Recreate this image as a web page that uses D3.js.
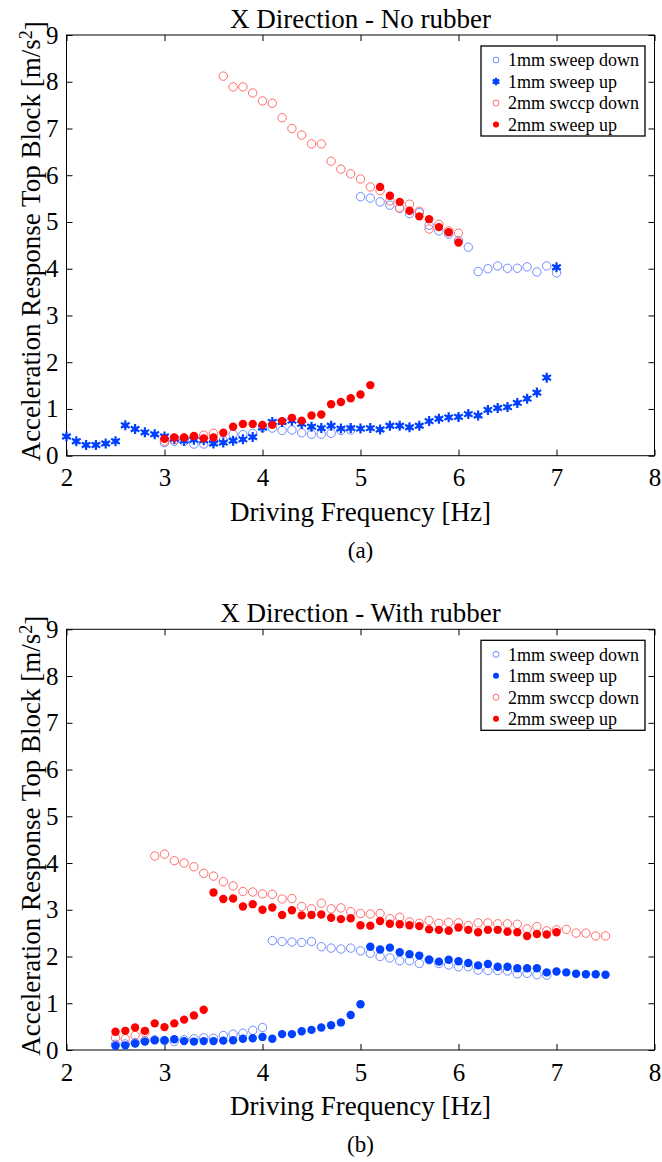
<!DOCTYPE html>
<html>
<head>
<meta charset="utf-8">
<script src="https://cdn.jsdelivr.net/npm/d3@7"></script>
<style>
  body { margin: 0; background: #fff; }
  svg text { font-family: "Liberation Serif", "Times New Roman", serif; fill: #000; }
</style>
</head>
<body>
<div id="chart"></div>
<script>
// axis ticks
const xTicks = [2, 3, 4, 5, 6, 7, 8];
const yTicks = [0, 1, 2, 3, 4, 5, 6, 7, 8, 9];
const legendLabels = ["1mm sweep down", "1mm sweep up", "2mm swccp down", "2mm sweep up"];

// (a) no rubber  -- [frequency Hz, acceleration m/s^2]
const a1mmDown = [
  [3.0,0.28],[3.1,0.31],[3.2,0.31],[3.3,0.25],[3.4,0.25],[3.5,0.30],[3.6,0.33],[3.7,0.46],[3.8,0.45],[3.9,0.48],
  [4.0,0.60],[4.1,0.59],[4.2,0.54],[4.3,0.55],[4.4,0.49],[4.5,0.46],[4.6,0.46],[4.7,0.48],[4.8,0.54],[4.9,0.55],
  [5.0,5.54],[5.1,5.51],[5.2,5.43],[5.3,5.36],[5.4,5.29],[5.5,5.18],[5.6,5.20],[5.7,4.93],[5.8,4.81],[5.9,4.74],
  [6.0,4.60],[6.1,4.46],[6.2,3.94],[6.3,4.00],[6.4,4.06],[6.5,4.01],[6.6,4.01],[6.7,4.04],[6.8,3.93],[6.9,4.06],[7.0,3.91]
];
const a1mmUp = [
  [2.0,0.41],[2.1,0.31],[2.2,0.23],[2.3,0.23],[2.4,0.26],[2.5,0.31],[2.6,0.65],[2.7,0.57],[2.8,0.50],[2.9,0.46],
  [3.0,0.41],[3.1,0.36],[3.2,0.32],[3.3,0.34],[3.4,0.33],[3.5,0.26],[3.6,0.28],[3.7,0.32],[3.8,0.35],[3.9,0.40],
  [4.0,0.60],[4.1,0.72],[4.2,0.72],[4.3,0.75],[4.4,0.68],[4.5,0.62],[4.6,0.59],[4.7,0.64],[4.8,0.58],[4.9,0.59],
  [5.0,0.58],[5.1,0.59],[5.2,0.56],[5.3,0.64],[5.4,0.64],[5.5,0.61],[5.6,0.64],[5.7,0.74],[5.8,0.79],[5.9,0.82],
  [6.0,0.83],[6.1,0.89],[6.2,0.86],[6.3,0.98],[6.4,1.02],[6.5,1.04],[6.6,1.13],[6.7,1.22],[6.8,1.35],[6.9,1.67],[7.0,4.03]
];
const a2mmDown = [
  [3.0,0.31],[3.1,0.34],[3.2,0.38],[3.3,0.40],[3.4,0.44],[3.5,0.48],
  [3.6,8.12],[3.7,7.89],[3.8,7.89],[3.9,7.76],[4.0,7.59],[4.1,7.54],[4.2,7.23],[4.3,7.00],[4.4,6.86],[4.5,6.67],
  [4.6,6.67],[4.7,6.30],[4.8,6.13],[4.9,6.03],[5.0,5.92],[5.1,5.75],[5.2,5.67],[5.3,5.45],[5.4,5.30],[5.5,5.38],
  [5.6,5.23],[5.7,4.85],[5.8,4.95],[5.9,4.81],[6.0,4.76]
];
const a2mmUp = [
  [3.0,0.36],[3.1,0.39],[3.2,0.39],[3.3,0.42],[3.4,0.37],[3.5,0.39],[3.6,0.49],[3.7,0.62],[3.8,0.68],[3.9,0.68],
  [4.0,0.66],[4.1,0.66],[4.2,0.74],[4.3,0.81],[4.4,0.75],[4.5,0.86],[4.6,0.88],[4.7,1.10],[4.8,1.15],[4.9,1.23],
  [5.0,1.31],[5.1,1.51],[5.2,5.75],[5.3,5.56],[5.4,5.43],[5.5,5.24],[5.6,5.12],[5.7,5.06],[5.8,4.89],[5.9,4.78],[6.0,4.56]
];

// (b) with rubber
const b1mmDown = [
  [2.5,0.12],[2.6,0.13],[2.7,0.16],[2.8,0.20],[2.9,0.22],[3.0,0.20],[3.1,0.18],[3.2,0.22],[3.3,0.24],[3.4,0.26],
  [3.5,0.25],[3.6,0.31],[3.7,0.34],[3.8,0.36],[3.9,0.42],[4.0,0.48],
  [4.1,2.34],[4.2,2.32],[4.3,2.31],[4.4,2.30],[4.5,2.32],[4.6,2.21],[4.7,2.18],[4.8,2.16],[4.9,2.18],[5.0,2.12],
  [5.1,2.07],[5.2,2.00],[5.3,1.97],[5.4,1.91],[5.5,1.91],[5.6,1.85],[5.7,1.93],[5.8,1.85],[5.9,1.82],[6.0,1.78],
  [6.1,1.78],[6.2,1.71],[6.3,1.70],[6.4,1.70],[6.5,1.69],[6.6,1.63],[6.7,1.64],[6.8,1.61],[6.9,1.60]
];
const b1mmUp = [
  [2.5,0.09],[2.6,0.10],[2.7,0.14],[2.8,0.18],[2.9,0.21],[3.0,0.21],[3.1,0.23],[3.2,0.19],[3.3,0.18],[3.4,0.19],
  [3.5,0.19],[3.6,0.20],[3.7,0.21],[3.8,0.24],[3.9,0.25],[4.0,0.28],[4.1,0.24],[4.2,0.34],[4.3,0.34],[4.4,0.40],
  [4.5,0.43],[4.6,0.48],[4.7,0.53],[4.8,0.59],[4.9,0.75],[5.0,0.98],
  [5.1,2.21],[5.2,2.15],[5.3,2.19],[5.4,2.09],[5.5,2.05],[5.6,2.02],[5.7,1.93],[5.8,1.89],[5.9,1.93],[6.0,1.90],
  [6.1,1.86],[6.2,1.81],[6.3,1.84],[6.4,1.78],[6.5,1.78],[6.6,1.75],[6.7,1.75],[6.8,1.75],[6.9,1.66],[7.0,1.68],
  [7.1,1.66],[7.2,1.63],[7.3,1.62],[7.4,1.62],[7.5,1.61]
];
const b2mmDown = [
  [2.5,0.26],[2.6,0.24],[2.7,0.31],[2.8,0.37],
  [2.9,4.15],[3.0,4.19],[3.1,4.05],[3.2,4.00],[3.3,3.92],[3.4,3.78],[3.5,3.72],[3.6,3.60],[3.7,3.51],[3.8,3.39],
  [3.9,3.38],[4.0,3.34],[4.1,3.33],[4.2,3.23],[4.3,3.24],[4.4,3.07],[4.5,3.02],[4.6,3.14],[4.7,3.02],[4.8,3.04],
  [4.9,2.96],[5.0,2.92],[5.1,2.91],[5.2,2.92],[5.3,2.81],[5.4,2.84],[5.5,2.74],[5.6,2.71],[5.7,2.77],[5.8,2.71],
  [5.9,2.73],[6.0,2.72],[6.1,2.66],[6.2,2.72],[6.3,2.72],[6.4,2.70],[6.5,2.70],[6.6,2.69],[6.7,2.59],[6.8,2.64],
  [6.9,2.55],[7.0,2.57],[7.1,2.58],[7.2,2.50],[7.3,2.50],[7.4,2.44],[7.5,2.44]
];
const b2mmUp = [
  [2.5,0.39],[2.6,0.41],[2.7,0.48],[2.8,0.41],[2.9,0.57],[3.0,0.49],[3.1,0.57],[3.2,0.65],[3.3,0.74],[3.4,0.86],
  [3.5,3.37],[3.6,3.23],[3.7,3.24],[3.8,3.07],[3.9,3.12],[4.0,3.00],[4.1,3.05],[4.2,2.89],[4.3,2.99],[4.4,2.88],
  [4.5,2.89],[4.6,2.90],[4.7,2.83],[4.8,2.80],[4.9,2.82],[5.0,2.67],[5.1,2.66],[5.2,2.76],[5.3,2.70],[5.4,2.69],
  [5.5,2.67],[5.6,2.65],[5.7,2.58],[5.8,2.57],[5.9,2.55],[6.0,2.62],[6.1,2.57],[6.2,2.52],[6.3,2.57],[6.4,2.57],
  [6.5,2.53],[6.6,2.52],[6.7,2.44],[6.8,2.48],[6.9,2.47],[7.0,2.52]
];

const W = 662, H = 1162;
const margin = { left: 66.5, right: 7.5 };
const serif = '"Liberation Serif", "Times New Roman", serif';

const svg = d3.select("#chart").append("svg")
  .attr("width", W)
  .attr("height", H);

// marker painters
function openCircle(g, color, r) {
  g.append("circle").attr("r", r).attr("fill", "none")
    .attr("stroke", color).attr("stroke-width", 1);
}
function dot(g, color, r) {
  g.append("circle").attr("r", r).attr("fill", color);
}
function star(g, color, size) {
  g.append("path").attr("d", d3.symbol(d3.symbolAsterisk).size(size)())
    .attr("fill", "none").attr("stroke", color).attr("stroke-width", 2.2);
  g.append("circle").attr("r", 2.6).attr("fill", color);
}

function drawPanel(cfg) {
  const top = cfg.top, bottom = cfg.bottom;
  const x = d3.scaleLinear().domain([2, 8]).range([margin.left, W - margin.right]);
  const y = d3.scaleLinear().domain([0, 9]).range([bottom, top]);

  const g = svg.append("g");

  // box
  g.append("rect")
    .attr("x", x(2)).attr("y", y(9))
    .attr("width", x(8) - x(2)).attr("height", y(0) - y(9))
    .attr("fill", "none").attr("stroke", "#000").attr("stroke-width", 1);

  // axes with inward ticks
  g.append("g").attr("transform", `translate(0,${bottom})`)
    .call(d3.axisBottom(x).tickValues(xTicks).tickFormat(d3.format("d"))
      .tickSizeInner(-6).tickSizeOuter(0).tickPadding(12))
    .call(a => a.select(".domain").remove())
    .call(a => a.selectAll("text").style("font-size", "25px").style("font-family", serif).attr("dy", "0.75em"));
  g.append("g").attr("transform", `translate(0,${top})`)
    .call(d3.axisTop(x).tickValues(xTicks).tickSizeInner(-6).tickSizeOuter(0).tickFormat(""))
    .call(a => a.select(".domain").remove());
  g.append("g").attr("transform", `translate(${x(2)},0)`)
    .call(d3.axisLeft(y).tickValues(yTicks).tickFormat(d3.format("d"))
      .tickSizeInner(-6).tickSizeOuter(0).tickPadding(8))
    .call(a => a.select(".domain").remove())
    .call(a => a.selectAll("text").style("font-size", "25px").style("font-family", serif));
  g.append("g").attr("transform", `translate(${x(8)},0)`)
    .call(d3.axisRight(y).tickValues(yTicks).tickSizeInner(-6).tickSizeOuter(0).tickFormat(""))
    .call(a => a.select(".domain").remove());
  g.selectAll(".tick line").attr("stroke", "#000");

  // title
  g.append("text")
    .attr("x", (x(2) + x(8)) / 2).attr("y", top - 7)
    .attr("text-anchor", "middle").style("font-size", "27px")
    .text(cfg.title);

  // x label
  g.append("text")
    .attr("x", (x(2) + x(8)) / 2).attr("y", bottom + 65)
    .attr("text-anchor", "middle").style("font-size", "27px")
    .text("Driving Frequency [Hz]");

  // y label
  const yl = g.append("text")
    .attr("transform", `translate(40,${(top + bottom) / 2 - 4}) rotate(-90)`)
    .attr("text-anchor", "middle").style("font-size", "27px");
  yl.append("tspan").text("Acceleration Response Top Block [m/s");
  yl.append("tspan").attr("dy", "-0.45em").style("font-size", "18px").text("2");
  yl.append("tspan").attr("dy", "0.45em").text("]");

  // caption
  g.append("text")
    .attr("x", (x(2) + x(8)) / 2).attr("y", bottom + 102)
    .attr("text-anchor", "middle").style("font-size", "23px")
    .text(cfg.caption);

  // data series, plotted in draw order
  cfg.series.forEach(s => {
    g.append("g").selectAll("g").data(s.data).enter()
      .append("g")
      .attr("transform", d => `translate(${x(d[0])},${y(d[1])})`)
      .each(function () { s.paint(d3.select(this)); });
  });

  // legend
  const lx = 481, ly = top + 11, lw = 164, lh = 90;
  const lg = g.append("g");
  lg.append("rect").attr("x", lx).attr("y", ly).attr("width", lw).attr("height", lh)
    .attr("fill", "#fff").attr("stroke", "#000").attr("stroke-width", 1.3);
  cfg.legend.forEach((paint, i) => {
    const cy = ly + 14 + i * 21.5;
    const m = lg.append("g").attr("transform", `translate(${lx + 15},${cy})`);
    paint(m);
    lg.append("text").attr("x", lx + 27).attr("y", cy).attr("dy", "0.35em")
      .style("font-size", "18px").text(legendLabels[i]);
  });
}

const blueLight = "#6f8cff", blue = "#0040ff", redLight = "#ff6b6b", red = "#ff0000";

drawPanel({
  top: 35, bottom: 455.7,
  title: "X Direction - No rubber",
  caption: "(a)",
  series: [
    { data: a1mmDown, paint: m => openCircle(m, blueLight, 4.2) },
    { data: a2mmDown, paint: m => openCircle(m, redLight, 4.2) },
    { data: a1mmUp, paint: m => star(m, blue, 70) },
    { data: a2mmUp, paint: m => dot(m, red, 4.2) }
  ],
  legend: [
    m => openCircle(m, blueLight, 3),
    m => star(m, blue, 40),
    m => openCircle(m, redLight, 3),
    m => dot(m, red, 3)
  ]
});

drawPanel({
  top: 629.3, bottom: 1050,
  title: "X Direction - With rubber",
  caption: "(b)",
  series: [
    { data: b1mmDown, paint: m => openCircle(m, blueLight, 4.2) },
    { data: b2mmDown, paint: m => openCircle(m, redLight, 4.2) },
    { data: b1mmUp, paint: m => dot(m, blue, 4.2) },
    { data: b2mmUp, paint: m => dot(m, red, 4.2) }
  ],
  legend: [
    m => openCircle(m, blueLight, 3),
    m => dot(m, blue, 3),
    m => openCircle(m, redLight, 3),
    m => dot(m, red, 3)
  ]
});
</script>
</body>
</html>
